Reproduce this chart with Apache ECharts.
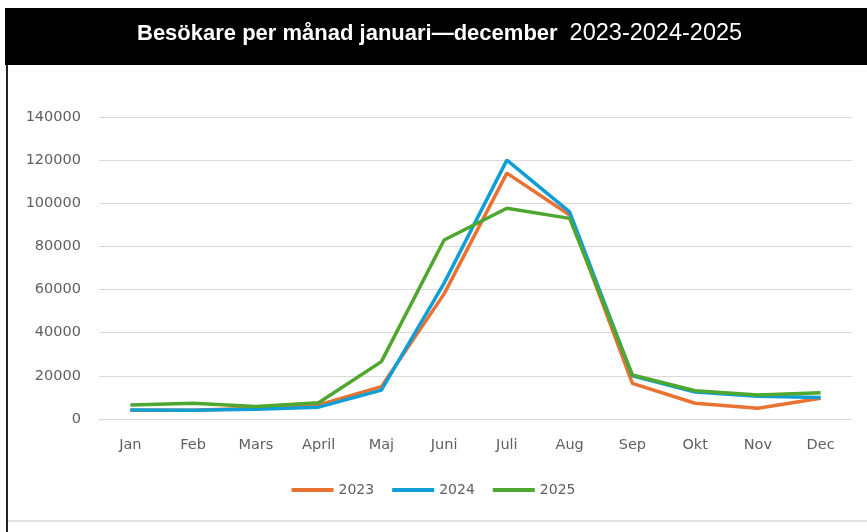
<!DOCTYPE html>
<html><head><meta charset="utf-8">
<script src="https://cdn.jsdelivr.net/npm/echarts@6/dist/echarts.min.js"></script>
<style>html,body{margin:0;padding:0;background:#fff}#c{width:867px;height:532px}</style>
</head><body><div id="c"></div>
<script>
const months = ['Jan','Feb','Mars','April','Maj','Juni','Juli','Aug','Sep','Okt','Nov','Dec'];
const v2023 = [4000,4000,5000,6500,15000,58000,114000,94600,16500,7300,5000,9600];
const v2024 = [4200,4000,4500,5500,13400,63000,120000,96000,20000,12500,10500,10000];
const v2025 = [6500,7300,5800,7500,26600,83000,97700,93000,20400,13100,11100,12200];
const yTicks = [0,20000,40000,60000,80000,100000,120000,140000];
const seriesNames = ['2023','2024','2025'];

const chart = echarts.init(document.getElementById('c'));
const colors = ['#E97132','#0F9ED5','#4EA72E'];
const lab = {color:'#5f5f5f', fontFamily:'DejaVu Sans, sans-serif', fontSize:14.5};
function mk(name, data, i){
  return {name, type:'line', data, symbol:'none', lineStyle:{width:3.5, color:colors[i]}, itemStyle:{color:colors[i]}, z:2+i};
}
chart.setOption({
  animation:false,
  backgroundColor:'#fff',
  graphic:[
    {type:'rect', shape:{x:5,y:8,width:862,height:57}, style:{fill:'#000'}},
    {type:'rect', shape:{x:6,y:65,width:2,height:467}, style:{fill:'#222'}},
    {type:'rect', shape:{x:8,y:520,width:859,height:2}, style:{fill:'#e4e4e4'}},
    {type:'text', left:137, top:22, style:{
      rich:{
        b:{fill:'#fff', fontFamily:'Liberation Sans, sans-serif', fontWeight:'bold', fontSize:22},
        n:{fill:'#fff', fontFamily:'Liberation Sans, sans-serif', fontSize:23.5, padding:[0,0,0,12]}
      },
      text:'{b|Besökare per månad januari—december}{n|2023-2024-2025}'
    }}
  ],
  grid:{left:99, right:15, top:117, bottom:113},
  legend:{data:seriesNames, bottom:30, left:'center', icon:'rect', itemWidth:42, itemHeight:4, itemGap:18,
    textStyle:{...lab, fontSize:14}},
  xAxis:{type:'category', data:months, boundaryGap:true,
    axisLine:{show:true, lineStyle:{color:'#d9d9d9'}}, axisTick:{show:false},
    axisLabel:{...lab, margin:19}},
  yAxis:{type:'value', min:yTicks[0], max:yTicks[yTicks.length-1], interval:yTicks[1]-yTicks[0],
    axisLine:{show:false}, axisTick:{show:false},
    splitLine:{lineStyle:{color:'#d9d9d9', width:1}},
    axisLabel:{...lab, margin:18, formatter:v=>String(v)}},
  series:[mk(seriesNames[0], v2023, 0), mk(seriesNames[1], v2024, 1), mk(seriesNames[2], v2025, 2)]
});
</script></body></html>
